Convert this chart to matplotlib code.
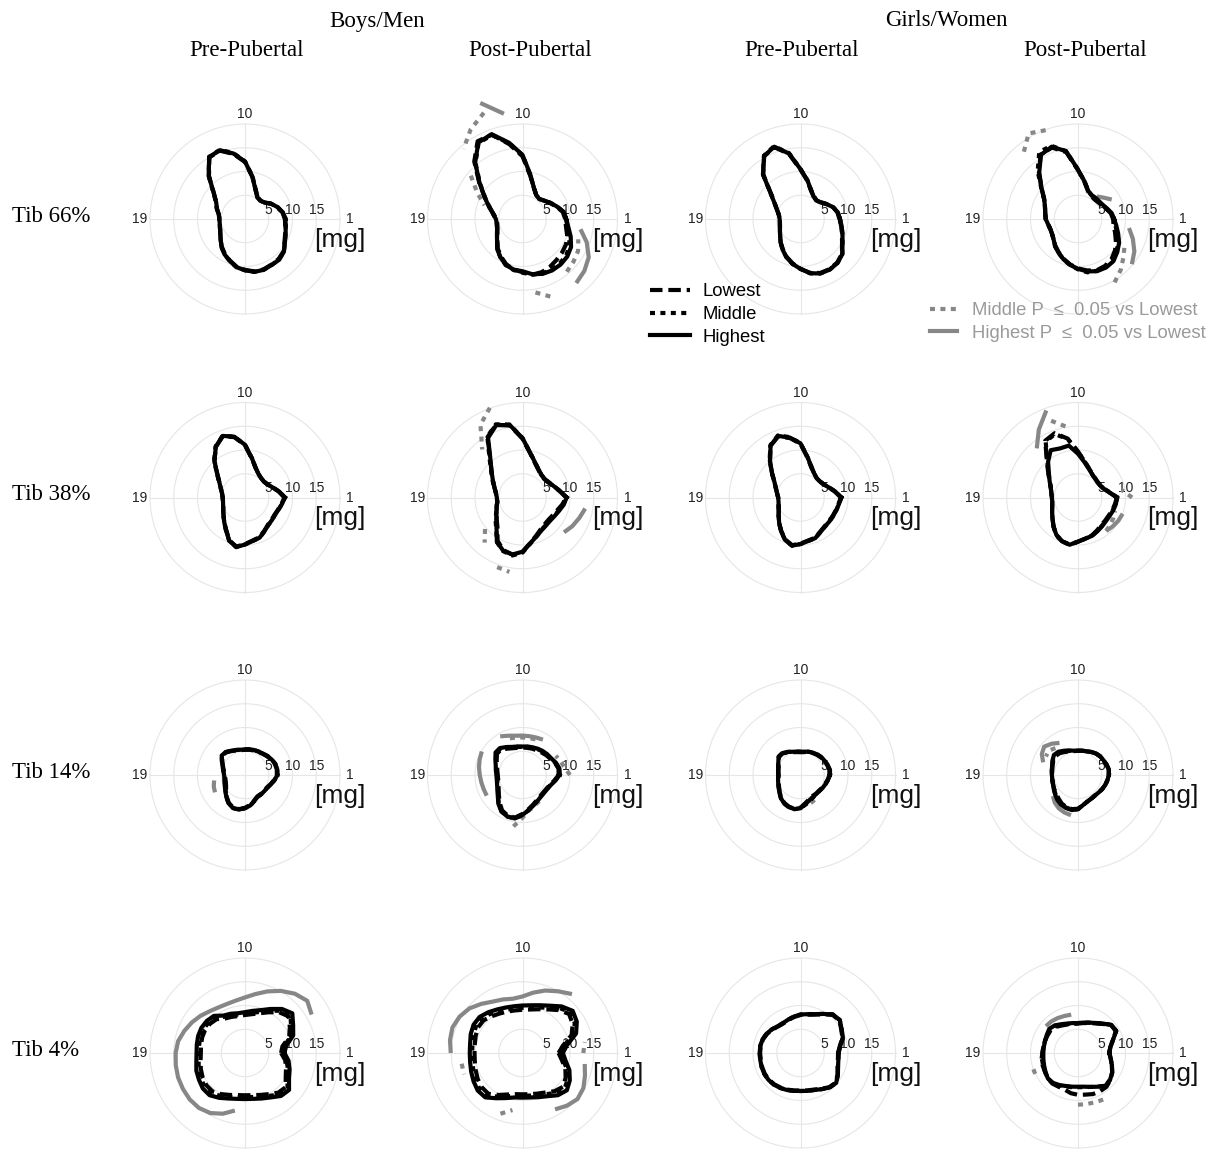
import numpy as np
import matplotlib
matplotlib.use("Agg")
import matplotlib.pyplot as plt
from matplotlib.lines import Line2D

# ------------------------------------------------------------------ data
angle_step_deg = 10                      # 36 sectors, sector 1 at 0 deg
angle_tick_sectors = [1, 10, 19]
angle_tick_labels = ["1", "10", "19"]
radial_ticks = [5, 10, 15]
radial_grid = [5, 10, 15, 20]
unit_label = "[mg]"
sex_labels = ["Boys/Men", "Girls/Women"]
stage_labels = ["Pre-Pubertal", "Post-Pubertal", "Pre-Pubertal", "Post-Pubertal"]
site_labels = ["Tib 66%", "Tib 38%", "Tib 14%", "Tib 4%"]
group_labels = ["Lowest", "Middle", "Highest"]
sig_labels = ["Middle P  \u2264  0.05 vs Lowest", "Highest P  \u2264  0.05 vs Lowest"]

# --- Tib 66%
boys_pre_66_lowest  = [8.4, 8.0, 7.2, 6.4, 5.4, 5.0, 5.3, 6.6, 9.0, 12.0, 13.9, 15.3, 15.0, 11.8, 8.6, 7.0, 6.3, 5.6, 5.4, 5.4, 5.6, 6.0, 6.7, 7.6, 8.5, 9.3, 10.2, 10.7, 11.2, 11.3, 11.1, 11.0, 10.6, 9.6, 9.0, 8.6]
boys_pre_66_middle  = [8.5, 8.1, 7.3, 6.4, 5.5, 5.1, 5.3, 6.5, 9.1, 12.1, 14.1, 15.5, 15.1, 11.9, 8.7, 7.0, 6.3, 5.6, 5.4, 5.4, 5.6, 6.0, 6.7, 7.7, 8.6, 9.4, 10.3, 10.8, 11.3, 11.4, 11.2, 11.1, 10.7, 9.7, 9.1, 8.7]
boys_pre_66_highest = [8.5, 8.1, 7.3, 6.4, 5.4, 5.0, 5.2, 6.5, 9.0, 12.1, 14.0, 15.4, 15.1, 11.9, 8.6, 7.0, 6.3, 5.6, 5.4, 5.4, 5.6, 6.0, 6.7, 7.7, 8.6, 9.4, 10.3, 10.8, 11.3, 11.4, 11.2, 11.2, 10.7, 9.7, 9.1, 8.7]
boys_pre_66_sig = []

boys_post_66_lowest  = [9.0, 8.6, 7.6, 6.7, 6.0, 5.5, 5.8, 7.0, 9.3, 13.2, 16.0, 18.9, 18.9, 15.8, 11.9, 9.2, 7.4, 6.2, 5.5, 5.4, 5.6, 6.1, 6.9, 8.1, 9.1, 10.1, 10.8, 11.2, 11.9, 11.9, 11.6, 11.2, 10.9, 10.6, 10.0, 9.3]
boys_post_66_middle  = [9.2, 8.8, 7.7, 6.8, 6.0, 5.5, 5.8, 7.0, 9.4, 13.4, 16.2, 18.8, 18.5, 15.4, 11.7, 9.1, 7.4, 6.3, 5.6, 5.5, 5.7, 6.2, 7.0, 8.3, 9.3, 10.3, 10.9, 11.3, 11.9, 12.2, 12.3, 12.2, 12.0, 11.4, 10.5, 9.6]
boys_post_66_highest = [9.2, 8.8, 7.7, 6.8, 6.0, 5.5, 5.8, 7.0, 9.5, 13.5, 16.3, 19.0, 18.6, 15.5, 11.8, 9.2, 7.5, 6.3, 5.6, 5.5, 5.7, 6.2, 7.0, 8.3, 9.3, 10.3, 10.8, 11.0, 11.8, 12.3, 12.5, 12.5, 12.3, 11.8, 10.8, 9.8]
boys_post_66_sig = [("Highest", 100, [22.5, 26.0]),
                    ("Highest", 310, [17.6, 17.0, 16.1, 14.4, 12.4]),
                    ("Middle", 110, [23.8, 21.8, 19.3]),
                    ("Middle", 140, [14.2, 11.0, 8.5]),
                    ("Middle", 310, [14.5, 14.0, 13.5, 12.5]),
                    ("Middle", 280, [15.7, 17.4])]

girls_pre_66_lowest  = [8.2, 7.9, 7.3, 6.3, 5.5, 5.1, 5.5, 6.4, 8.2, 10.4, 13.9, 16.1, 15.3, 12.2, 8.0, 6.2, 5.2, 4.6, 4.4, 4.4, 4.6, 5.0, 5.6, 6.5, 7.4, 8.5, 9.5, 10.5, 11.5, 12.1, 12.2, 12.0, 11.4, 10.1, 9.3, 8.7]
girls_pre_66_middle  = [8.3, 8.0, 7.3, 6.3, 5.5, 5.2, 5.6, 6.5, 8.3, 10.5, 14.1, 16.3, 15.4, 12.3, 8.1, 6.2, 5.2, 4.6, 4.4, 4.4, 4.6, 5.0, 5.6, 6.5, 7.5, 8.6, 9.6, 10.5, 11.6, 12.2, 12.3, 12.1, 11.5, 10.2, 9.4, 8.8]
girls_pre_66_highest = [8.3, 8.0, 7.3, 6.3, 5.5, 5.1, 5.5, 6.5, 8.3, 10.5, 14.0, 16.2, 15.3, 12.3, 8.1, 6.2, 5.2, 4.6, 4.4, 4.4, 4.6, 5.0, 5.6, 6.5, 7.5, 8.6, 9.6, 10.5, 11.6, 12.2, 12.3, 12.1, 11.5, 10.2, 9.4, 8.8]
girls_pre_66_sig = []

girls_post_66_lowest  = [7.4, 7.0, 6.3, 5.8, 5.5, 5.4, 5.6, 6.2, 7.9, 10.3, 14.3, 16.0, 15.7, 12.8, 10.0, 8.2, 7.4, 7.0, 6.8, 6.4, 6.2, 6.3, 6.7, 7.4, 8.1, 8.9, 9.7, 10.4, 11.0, 11.5, 11.4, 11.0, 10.2, 9.2, 8.3, 7.6]
girls_post_66_middle  = [7.5, 7.1, 6.4, 5.9, 5.7, 5.6, 5.7, 6.3, 8.0, 10.4, 14.5, 16.4, 16.3, 13.2, 10.1, 8.2, 7.4, 7.0, 6.8, 6.4, 6.2, 6.3, 6.7, 7.5, 8.2, 9.0, 9.8, 10.6, 11.4, 11.6, 11.6, 11.3, 10.6, 9.8, 8.8, 8.0]
girls_post_66_highest = [7.6, 7.2, 6.5, 6.0, 5.8, 5.8, 5.8, 6.3, 8.0, 10.4, 14.5, 16.2, 15.6, 12.7, 10.0, 8.2, 7.4, 7.0, 6.8, 6.4, 6.2, 6.3, 6.7, 7.5, 8.2, 9.0, 9.8, 10.5, 11.2, 11.7, 11.8, 11.6, 10.8, 10.0, 9.0, 8.2]
girls_post_66_sig = [("Middle", 110, [19.9, 20.8, 17.9]),
                     ("Highest", 30, [8.2, 7.0, 6.2]),
                     ("Highest", 320, [14.8, 13.7, 12.3, 10.9]),
                     ("Middle", 300, [15.4, 14.0, 12.5, 11.3])]

# --- Tib 38%
boys_pre_38_lowest  = [8.3, 7.2, 6.2, 5.5, 5.2, 5.3, 5.7, 6.6, 8.3, 11.0, 12.9, 13.7, 12.3, 10.0, 7.6, 6.2, 5.4, 4.9, 4.7, 4.7, 4.9, 5.3, 5.9, 6.8, 7.9, 9.6, 10.5, 9.8, 9.2, 8.9, 8.1, 7.5, 7.3, 7.2, 7.4, 7.8]
boys_pre_38_middle  = [8.4, 7.3, 6.2, 5.5, 5.2, 5.3, 5.7, 6.6, 8.4, 11.1, 13.0, 13.8, 12.4, 10.1, 7.7, 6.2, 5.4, 4.9, 4.7, 4.7, 4.9, 5.3, 5.9, 6.8, 8.0, 9.7, 10.6, 9.9, 9.3, 9.0, 8.2, 7.6, 7.4, 7.3, 7.5, 7.9]
boys_pre_38_highest = [8.4, 7.3, 6.2, 5.5, 5.2, 5.3, 5.7, 6.6, 8.4, 11.1, 13.0, 13.8, 12.3, 10.0, 7.6, 6.2, 5.4, 4.9, 4.7, 4.7, 4.9, 5.3, 5.9, 6.8, 8.0, 9.7, 10.6, 9.9, 9.3, 9.0, 8.2, 7.6, 7.4, 7.3, 7.5, 7.9]
boys_pre_38_sig = []

boys_post_38_lowest  = [9.2, 7.9, 6.9, 6.3, 6.0, 6.1, 6.7, 7.7, 9.4, 12.4, 15.4, 16.3, 14.7, 10.6, 8.5, 7.2, 6.3, 5.7, 5.4, 5.4, 5.8, 6.3, 7.1, 8.2, 10.5, 11.8, 12.2, 11.5, 9.7, 8.5, 7.7, 7.3, 7.2, 7.4, 7.8, 8.5]
boys_post_38_middle  = [9.3, 8.0, 7.0, 6.4, 6.1, 6.2, 6.8, 7.8, 9.5, 12.5, 15.6, 16.4, 14.8, 10.8, 8.6, 7.3, 6.3, 5.7, 5.4, 5.4, 5.8, 6.4, 7.4, 8.6, 10.8, 12.0, 12.4, 11.6, 9.8, 8.7, 7.9, 7.6, 7.5, 7.7, 8.1, 8.7]
boys_post_38_highest = [9.3, 8.0, 7.0, 6.4, 6.1, 6.2, 6.8, 7.8, 9.5, 12.5, 15.5, 16.2, 14.5, 10.5, 8.5, 7.2, 6.3, 5.7, 5.4, 5.4, 5.8, 6.3, 7.2, 8.5, 10.8, 11.9, 12.2, 11.4, 9.7, 8.7, 8.0, 7.7, 7.6, 7.8, 8.2, 8.8]
boys_post_38_sig = [("Middle", 110, [20.1, 17.7, 13.2]),
                    ("Middle", 220, [10.3, 12.4]),
                    ("Middle", 250, [15.6, 15.9]),
                    ("Highest", 320, [11.4, 12.1, 12.7, 13.4])]

girls_pre_38_lowest  = [8.5, 7.3, 6.3, 5.6, 5.3, 5.3, 5.8, 6.7, 8.5, 11.3, 12.7, 13.7, 12.6, 10.0, 7.8, 6.3, 5.5, 5.0, 4.7, 4.7, 4.9, 5.3, 6.0, 7.0, 8.1, 9.4, 10.2, 9.7, 9.2, 9.0, 8.3, 7.9, 7.8, 7.8, 7.9, 8.1]
girls_pre_38_middle  = [8.6, 7.4, 6.3, 5.6, 5.3, 5.3, 5.8, 6.8, 8.6, 11.4, 12.9, 13.9, 12.7, 10.1, 7.8, 6.3, 5.5, 5.0, 4.7, 4.7, 4.9, 5.3, 6.0, 7.0, 8.2, 9.5, 10.3, 9.8, 9.3, 9.1, 8.4, 8.0, 7.9, 7.9, 8.0, 8.2]
girls_pre_38_highest = [8.6, 7.4, 6.3, 5.6, 5.3, 5.3, 5.8, 6.8, 8.6, 11.4, 12.8, 13.8, 12.6, 10.0, 7.8, 6.3, 5.5, 5.0, 4.7, 4.7, 4.9, 5.3, 6.0, 7.0, 8.2, 9.5, 10.3, 9.8, 9.3, 9.1, 8.4, 8.0, 7.9, 7.9, 8.0, 8.2]
girls_pre_38_sig = []

girls_post_38_lowest  = [8.2, 6.6, 5.6, 5.3, 5.3, 5.5, 5.9, 6.6, 7.8, 9.7, 12.6, 14.4, 13.8, 10.2, 8.2, 6.9, 6.1, 5.7, 5.5, 5.5, 5.8, 6.3, 7.0, 8.0, 9.2, 9.8, 10.1, 9.3, 8.8, 8.5, 8.0, 7.6, 7.5, 7.5, 7.7, 7.9]
girls_post_38_middle  = [8.3, 6.7, 5.7, 5.3, 5.2, 5.4, 5.8, 6.6, 7.8, 9.6, 12.5, 14.2, 13.6, 10.1, 8.1, 6.9, 6.1, 5.7, 5.5, 5.5, 5.8, 6.3, 7.0, 8.0, 9.1, 9.8, 10.1, 9.3, 8.8, 8.6, 8.1, 7.8, 7.6, 7.6, 7.8, 8.0]
girls_post_38_highest = [8.2, 6.6, 5.6, 5.3, 5.2, 5.4, 5.8, 6.5, 7.6, 9.2, 11.1, 11.0, 11.5, 9.8, 8.0, 6.9, 6.1, 5.7, 5.5, 5.5, 5.8, 6.3, 7.0, 8.0, 9.1, 9.8, 10.1, 9.3, 8.8, 8.6, 8.2, 7.9, 7.7, 7.7, 7.9, 8.1]
girls_post_38_sig = [("Highest", 110, [19.5, 16.5, 13.5]),
                     ("Middle", 100, [15.2, 17.3]),
                     ("Middle", 0, [11.4, 9.3]),
                     ("Highest", 310, [9.2, 9.5, 9.8, 10.0]),
                     ("Middle", 310, [9.2, 8.9, 8.6, 8.3])]

# --- Tib 14%
boys_pre_14_lowest  = [6.7, 6.8, 6.7, 6.4, 6.1, 5.8, 5.6, 5.5, 5.4, 5.3, 5.3, 5.5, 5.8, 6.2, 6.3, 5.5, 4.9, 4.5, 4.3, 4.2, 4.3, 4.6, 5.2, 6.0, 6.8, 7.3, 7.3, 6.9, 6.4, 5.7, 5.2, 5.2, 5.2, 5.3, 5.7, 6.2]
boys_pre_14_middle  = [6.8, 6.9, 6.8, 6.5, 6.2, 5.9, 5.7, 5.6, 5.5, 5.4, 5.4, 5.6, 5.9, 6.3, 6.4, 5.6, 5.0, 4.6, 4.4, 4.3, 4.5, 4.8, 5.3, 6.1, 6.9, 7.4, 7.4, 7.0, 6.5, 5.8, 5.3, 5.3, 5.3, 5.4, 5.8, 6.3]
boys_pre_14_highest = [6.8, 6.9, 6.8, 6.5, 6.2, 5.9, 5.7, 5.6, 5.5, 5.4, 5.4, 5.6, 5.9, 6.3, 6.4, 5.6, 5.0, 4.6, 4.4, 4.4, 4.6, 4.9, 5.4, 6.1, 6.9, 7.4, 7.4, 7.0, 6.5, 5.8, 5.3, 5.3, 5.3, 5.4, 5.8, 6.3]
boys_pre_14_sig = [("Highest", 190, [6.6, 7.0, 7.3])]

boys_post_14_lowest  = [7.6, 7.7, 7.3, 6.8, 6.5, 6.2, 6.0, 5.9, 5.8, 5.8, 5.8, 6.0, 6.4, 7.0, 7.0, 6.3, 5.7, 5.4, 5.2, 5.2, 5.4, 5.8, 6.5, 7.5, 8.6, 9.1, 9.1, 8.2, 7.3, 6.6, 6.1, 5.8, 5.7, 5.8, 6.1, 6.8]
boys_post_14_middle  = [7.8, 7.8, 7.4, 6.9, 6.7, 6.5, 6.3, 6.1, 6.0, 5.9, 6.0, 6.2, 6.7, 7.2, 7.2, 6.4, 5.9, 5.6, 5.4, 5.4, 5.6, 6.0, 6.7, 7.8, 8.8, 9.3, 9.3, 8.4, 7.5, 6.7, 6.2, 5.9, 5.8, 5.9, 6.2, 6.9]
boys_post_14_highest = [7.8, 7.9, 7.5, 7.0, 6.8, 6.6, 6.4, 6.2, 6.1, 6.0, 6.1, 6.3, 6.8, 7.4, 7.4, 6.6, 6.0, 5.7, 5.5, 5.5, 5.7, 6.1, 6.8, 7.9, 8.9, 9.3, 9.3, 8.4, 7.5, 6.8, 6.3, 6.0, 5.9, 6.0, 6.3, 7.0]
boys_post_14_sig = [("Highest", 60, [8.6, 8.4, 8.3, 8.3, 8.4, 8.8, 9.4]),
                    ("Middle", 70, [8.0, 7.9, 7.9, 8.0, 8.2]),
                    ("Middle", 0, [10.0, 9.0, 8.5, 8.1]),
                    ("Highest", 150, [9.9, 9.6, 9.3, 9.0, 8.8, 8.7, 8.7]),
                    ("Middle", 260, [11.0, 9.0, 7.6, 7.0, 6.6, 6.4])]

girls_pre_14_lowest  = [6.1, 6.2, 6.0, 5.8, 5.7, 5.5, 5.3, 5.1, 4.9, 4.8, 4.9, 5.1, 5.5, 5.9, 5.9, 5.3, 4.9, 4.7, 4.6, 4.7, 4.9, 5.2, 5.7, 6.3, 6.8, 7.1, 7.2, 6.9, 6.0, 5.4, 5.1, 5.1, 5.1, 5.3, 5.5, 5.8]
girls_pre_14_middle  = [6.2, 6.3, 6.1, 5.9, 5.8, 5.6, 5.4, 5.2, 5.0, 4.9, 5.0, 5.2, 5.6, 6.0, 6.0, 5.4, 5.0, 4.8, 4.7, 4.8, 5.0, 5.3, 5.8, 6.4, 6.9, 7.2, 7.3, 7.0, 6.3, 5.8, 5.4, 5.2, 5.2, 5.4, 5.6, 5.9]
girls_pre_14_highest = [6.2, 6.3, 6.1, 5.9, 5.8, 5.6, 5.4, 5.2, 5.0, 4.9, 5.0, 5.2, 5.6, 6.0, 6.0, 5.4, 5.0, 4.8, 4.7, 4.8, 5.0, 5.3, 5.8, 6.4, 6.9, 7.2, 7.3, 7.0, 6.2, 5.6, 5.3, 5.2, 5.2, 5.4, 5.6, 5.9]
girls_pre_14_sig = [("Middle", 290, [6.3, 6.0])]

girls_post_14_lowest  = [6.5, 6.6, 6.4, 6.2, 6.1, 5.9, 5.6, 5.3, 5.2, 5.1, 5.1, 5.3, 5.6, 6.0, 6.2, 6.0, 5.7, 5.5, 5.5, 5.5, 5.6, 5.8, 6.0, 6.4, 6.9, 7.2, 7.3, 7.1, 6.4, 5.9, 5.7, 5.6, 5.7, 5.9, 6.1, 6.3]
girls_post_14_middle  = [6.5, 6.6, 6.4, 6.2, 6.1, 5.9, 5.6, 5.3, 5.2, 5.1, 5.2, 5.4, 5.8, 6.2, 6.4, 6.1, 5.8, 5.6, 5.5, 5.5, 5.6, 5.9, 6.2, 6.7, 7.1, 7.3, 7.4, 7.2, 6.4, 5.9, 5.7, 5.6, 5.7, 5.9, 6.1, 6.3]
girls_post_14_highest = [6.5, 6.6, 6.4, 6.2, 6.1, 5.9, 5.6, 5.3, 5.2, 5.1, 5.2, 5.5, 5.9, 6.4, 6.6, 6.2, 5.8, 5.6, 5.5, 5.5, 5.6, 5.9, 6.3, 6.8, 7.2, 7.4, 7.5, 7.2, 6.4, 5.9, 5.7, 5.6, 5.7, 5.9, 6.1, 6.3]
girls_post_14_sig = [("Highest", 120, [7.8, 8.6, 9.3, 8.8, 7.8]),
                     ("Middle", 130, [7.4, 8.0, 7.8]),
                     ("Highest", 220, [6.9, 7.6, 8.1, 8.4, 8.6])]

# --- Tib 4%
boys_pre_4_lowest  = [7.6, 8.0, 9.9, 10.9, 12.0, 11.2, 9.9, 8.9, 8.3, 8.0, 7.9, 8.1, 8.4, 9.3, 9.6, 9.7, 9.6, 9.4, 9.3, 9.5, 9.9, 10.3, 10.6, 10.6, 10.0, 9.4, 9.0, 8.9, 9.0, 9.4, 10.0, 10.9, 11.2, 9.9, 9.2, 8.6]
boys_pre_4_middle  = [8.0, 8.4, 10.3, 11.2, 12.5, 11.6, 10.3, 9.2, 8.6, 8.3, 8.2, 8.4, 8.8, 9.7, 10.0, 10.1, 10.0, 9.8, 9.7, 9.9, 10.4, 10.7, 11.1, 11.1, 10.4, 9.8, 9.4, 9.3, 9.4, 9.8, 10.4, 11.4, 11.7, 10.3, 9.6, 8.9]
boys_pre_4_highest = [8.3, 8.8, 10.8, 11.7, 13.0, 12.1, 10.7, 9.6, 9.0, 8.6, 8.5, 8.8, 9.1, 10.2, 10.5, 10.6, 10.5, 10.3, 10.2, 10.4, 10.9, 11.2, 11.6, 11.6, 10.9, 10.2, 9.8, 9.7, 9.8, 10.2, 10.8, 11.8, 12.1, 10.7, 10.0, 9.3]
boys_pre_4_sig = [("Highest", 30, [16.2, 17.1, 16.3, 15.1, 13.8, 12.6, 11.7, 11.2, 11.0, 11.1, 11.5, 12.2,
                                   12.9, 13.6, 14.3, 14.6, 14.8, 15.0, 15.1, 15.2, 15.1, 14.6, 13.6, 12.3])]

boys_post_4_lowest  = [7.6, 8.6, 11.0, 12.2, 12.8, 11.8, 10.6, 9.8, 9.3, 9.1, 9.1, 9.3, 9.6, 10.1, 10.7, 10.8, 10.5, 10.2, 10.1, 10.2, 10.5, 10.9, 11.2, 11.2, 10.2, 9.3, 8.8, 8.7, 8.8, 9.1, 9.6, 10.5, 11.1, 10.5, 9.6, 8.4]
boys_post_4_middle  = [8.0, 9.0, 11.5, 12.7, 13.3, 12.3, 11.0, 10.2, 9.7, 9.5, 9.5, 9.7, 10.1, 10.7, 11.2, 11.3, 11.0, 10.7, 10.6, 10.7, 11.0, 11.4, 11.8, 11.7, 10.6, 9.7, 9.1, 9.0, 9.1, 9.5, 10.0, 11.0, 11.6, 11.0, 10.0, 8.7]
boys_post_4_highest = [8.5, 9.5, 12.0, 13.2, 13.8, 12.8, 11.5, 10.7, 10.2, 10.0, 10.0, 10.2, 10.6, 11.2, 11.8, 11.9, 11.6, 11.2, 11.1, 11.2, 11.5, 11.9, 12.3, 12.2, 11.0, 10.1, 9.5, 9.4, 9.5, 9.9, 10.5, 11.6, 12.2, 11.5, 10.5, 9.2]
boys_post_4_sig = [("Highest", 50, [16.2, 15.0, 14.0, 12.9, 11.9, 11.6, 12.0, 12.5, 13.5, 14.6, 15.3, 15.7, 15.5, 15.1]),
                   ("Middle", 190, [13.0, 13.1]),
                   ("Middle", 0, [12.8, 13.3]),
                   ("Highest", 300, [13.7, 14.5, 15.1, 14.8, 14.0, 13.3]),
                   ("Middle", 250, [13.6, 12.2])]

girls_pre_4_lowest  = [7.9, 8.4, 9.4, 9.9, 10.7, 10.5, 9.4, 8.6, 8.2, 8.0, 7.7, 7.4, 7.2, 7.3, 7.7, 8.1, 8.4, 8.5, 8.5, 8.5, 8.6, 8.7, 8.7, 8.6, 8.4, 8.2, 8.0, 7.9, 8.0, 8.2, 8.7, 9.4, 9.7, 9.0, 8.3, 8.0]
girls_pre_4_middle  = [8.0, 8.5, 9.5, 10.0, 10.8, 10.6, 9.5, 8.7, 8.3, 8.1, 7.8, 7.5, 7.3, 7.4, 7.8, 8.2, 8.5, 8.6, 8.6, 8.6, 8.7, 8.8, 8.8, 8.7, 8.5, 8.3, 8.1, 8.0, 8.1, 8.3, 8.8, 9.5, 9.8, 9.1, 8.4, 8.1]
girls_pre_4_highest = [8.0, 8.5, 9.5, 10.0, 10.8, 10.6, 9.5, 8.7, 8.3, 8.1, 7.8, 7.5, 7.3, 7.4, 7.8, 8.2, 8.5, 8.6, 8.6, 8.6, 8.7, 8.8, 8.8, 8.7, 8.5, 8.3, 8.1, 8.0, 8.1, 8.3, 8.8, 9.5, 9.8, 9.1, 8.4, 8.1]
girls_pre_4_sig = []

girls_post_4_lowest  = [6.6, 6.9, 7.8, 9.2, 9.1, 8.0, 7.2, 6.7, 6.4, 6.2, 6.2, 6.4, 6.7, 7.2, 7.5, 7.4, 7.4, 7.4, 7.5, 7.8, 7.9, 8.0, 8.3, 8.4, 8.2, 8.2, 8.6, 8.8, 8.9, 9.2, 9.3, 9.3, 8.9, 8.3, 7.6, 7.0]
girls_post_4_middle  = [6.6, 6.9, 7.8, 9.3, 9.2, 8.1, 7.3, 6.8, 6.5, 6.3, 6.3, 6.5, 6.9, 7.4, 7.7, 7.5, 7.4, 7.4, 7.5, 7.7, 7.8, 8.0, 8.3, 8.3, 7.9, 7.5, 7.3, 7.2, 7.3, 7.6, 8.2, 9.0, 8.8, 8.3, 7.6, 7.0]
girls_post_4_highest = [6.6, 6.9, 7.8, 9.3, 9.2, 8.1, 7.3, 6.8, 6.5, 6.3, 6.4, 6.6, 7.0, 7.6, 7.9, 7.6, 7.4, 7.3, 7.3, 7.4, 7.6, 7.9, 8.3, 8.2, 7.8, 7.4, 7.2, 7.1, 7.2, 7.6, 8.2, 9.0, 8.8, 8.3, 7.6, 7.0]
girls_post_4_sig = [("Highest", 100, [8.2, 8.3, 8.5, 8.7, 8.8]),
                    ("Middle", 200, [10.0, 10.1]),
                    ("Middle", 270, [10.9, 10.9, 11.0, 11.2])]

panels = [
    [(boys_pre_66_lowest, boys_pre_66_middle, boys_pre_66_highest, boys_pre_66_sig),
     (boys_post_66_lowest, boys_post_66_middle, boys_post_66_highest, boys_post_66_sig),
     (girls_pre_66_lowest, girls_pre_66_middle, girls_pre_66_highest, girls_pre_66_sig),
     (girls_post_66_lowest, girls_post_66_middle, girls_post_66_highest, girls_post_66_sig)],
    [(boys_pre_38_lowest, boys_pre_38_middle, boys_pre_38_highest, boys_pre_38_sig),
     (boys_post_38_lowest, boys_post_38_middle, boys_post_38_highest, boys_post_38_sig),
     (girls_pre_38_lowest, girls_pre_38_middle, girls_pre_38_highest, girls_pre_38_sig),
     (girls_post_38_lowest, girls_post_38_middle, girls_post_38_highest, girls_post_38_sig)],
    [(boys_pre_14_lowest, boys_pre_14_middle, boys_pre_14_highest, boys_pre_14_sig),
     (boys_post_14_lowest, boys_post_14_middle, boys_post_14_highest, boys_post_14_sig),
     (girls_pre_14_lowest, girls_pre_14_middle, girls_pre_14_highest, girls_pre_14_sig),
     (girls_post_14_lowest, girls_post_14_middle, girls_post_14_highest, girls_post_14_sig)],
    [(boys_pre_4_lowest, boys_pre_4_middle, boys_pre_4_highest, boys_pre_4_sig),
     (boys_post_4_lowest, boys_post_4_middle, boys_post_4_highest, boys_post_4_sig),
     (girls_pre_4_lowest, girls_pre_4_middle, girls_pre_4_highest, girls_pre_4_sig),
     (girls_post_4_lowest, girls_post_4_middle, girls_post_4_highest, girls_post_4_sig)],
]

# ------------------------------------------------------------------ style
W, H = 1215, 1149
SERIF = "Liberation Serif"
SANS = "Liberation Sans"
GRID = "#e6e6e6"
GRAY = "#878787"
GRAY_TXT = "#9a9a9a"
LW = 3.0
DASH_LOW = (3.0, 1.4)
DASH_MID = (1.2, 1.3)
PX_PER_UNIT = 4.75
RMAX = 28.0
col_cx = [245, 522.5, 800.5, 1078]
row_cy = [219, 497.5, 775, 1053]

fig = plt.figure(figsize=(W / 100, H / 100), dpi=100)

R_PX = RMAX * PX_PER_UNIT
tgrid = np.linspace(0, 2 * np.pi, 361)
for i, row in enumerate(panels):
    for j, (low, mid, high, sig) in enumerate(row):
        cx, cy = col_cx[j], row_cy[i]
        ax = fig.add_axes([(cx - R_PX) / W, 1 - (cy + R_PX) / H, 2 * R_PX / W, 2 * R_PX / H],
                          projection="polar")
        ax.set_ylim(0, RMAX)
        ax.set_axis_off()
        # grid
        for r in radial_grid:
            ax.plot(tgrid, np.full_like(tgrid, r), color=GRID, lw=0.8, zorder=0)
        for a in (0, 90, 180, 270):
            ax.plot([np.deg2rad(a)] * 2, [0, radial_grid[-1]], color=GRID, lw=0.8, zorder=0)
        # angle labels
        for s, lab in zip(angle_tick_sectors, angle_tick_labels):
            ang = np.deg2rad((s - 1) * angle_step_deg)
            ax.text(ang, 22.1, lab, ha="center", va="center", fontsize=10, family=SANS,
                    color="#222222", zorder=1)
        # radial labels
        for t in radial_ticks:
            ax.annotate(str(t), xy=(0, t), xytext=(0, 6.5), textcoords="offset points",
                        ha="center", va="center", fontsize=10, family=SANS,
                        color="#222222", zorder=1, annotation_clip=False)
        ax.annotate(unit_label, xy=(0, radial_grid[-1]), xytext=(0, -15),
                    textcoords="offset points", ha="center", va="center",
                    fontsize=19, family=SANS, color="#111111", zorder=1,
                    annotation_clip=False)
        # significance arcs
        for grp, start, radii in sig:
            th = np.deg2rad(start + angle_step_deg * np.arange(len(radii)))
            if grp == "Middle":
                ax.plot(th, radii, color=GRAY, lw=LW, dashes=DASH_MID,
                        dash_capstyle="butt", zorder=2, clip_on=False)
            else:
                ax.plot(th, radii, color=GRAY, lw=LW, solid_capstyle="butt",
                        zorder=2, clip_on=False)
        # curves
        theta = np.deg2rad(np.arange(len(high) + 1) * angle_step_deg)
        ax.plot(theta, list(low) + [low[0]], color="black", lw=LW, dashes=DASH_LOW,
                dash_capstyle="butt", zorder=3)
        ax.plot(theta, list(mid) + [mid[0]], color="black", lw=LW, dashes=DASH_MID,
                dash_capstyle="butt", zorder=3)
        ax.plot(theta, list(high) + [high[0]], color="black", lw=LW,
                solid_joinstyle="round", zorder=4)

# headers
fig.text(377 / W, 1 - 21 / H, sex_labels[0], ha="center", va="center", fontsize=16.5, family=SERIF)
fig.text(946 / W, 1 - 21 / H, sex_labels[1], ha="center", va="center", fontsize=16.5, family=SERIF)
for x, lab in zip([247, 530, 802, 1085], stage_labels):
    fig.text(x / W, 1 - 51 / H, lab, ha="center", va="center", fontsize=16.5, family=SERIF)
for y, lab in zip([217, 494, 772, 1050], site_labels):
    fig.text(12 / W, 1 - y / H, lab, ha="left", va="center", fontsize=16.5, family=SERIF)

# legends
h1 = [Line2D([], [], color="black", lw=LW, dashes=DASH_LOW),
      Line2D([], [], color="black", lw=LW, dashes=DASH_MID),
      Line2D([], [], color="black", lw=LW)]
fig.legend(h1, group_labels, loc="center left", bbox_to_anchor=(650 / W, 1 - 314.5 / H),
           frameon=False, prop={"family": SANS, "size": 13.3}, handlelength=2.16,
           handletextpad=0.7, labelspacing=0.3, borderpad=0, borderaxespad=0)
h2 = [Line2D([], [], color=GRAY, lw=LW, dashes=DASH_MID),
      Line2D([], [], color=GRAY, lw=LW)]
fig.legend(h2, sig_labels, loc="center left", bbox_to_anchor=(930 / W, 1 - 322 / H),
           frameon=False, prop={"family": SANS, "size": 13.3}, handlelength=1.46,
           handletextpad=0.8, labelspacing=0.28, borderpad=0, borderaxespad=0,
           labelcolor=GRAY_TXT)

fig.savefig("out.png", dpi=100)
